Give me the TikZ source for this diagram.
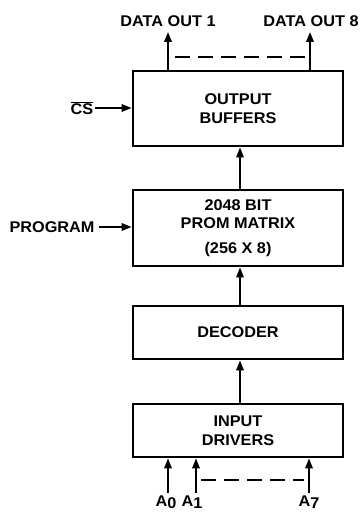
\documentclass[tikz,border=0pt]{standalone}
\usepackage{fontspec}
\setmainfont{Liberation Sans}[FakeStretch=1.05]
\usetikzlibrary{arrows.meta}
\begin{document}
\begin{tikzpicture}[x=1pt,y=-1pt,
  blk/.style={draw,line width=2.8pt,minimum width=210pt,inner sep=0pt,align=center,
     font=\fontsize{15.5}{18.5}\selectfont\bfseries},
  lbl/.style={inner sep=0pt,font=\fontsize{15.5}{18}\selectfont\bfseries},
  arr/.style={line width=1.8pt,-{Triangle[length=10pt,width=7.5pt]}},
  dsh/.style={line width=1.9pt,dash pattern=on 15pt off 8pt}]
\useasboundingbox (0,0) rectangle (362,513);
% blocks
\node[blk,minimum height=75pt] (out) at (238,108.5) {OUTPUT\\BUFFERS};
\node[blk,minimum height=76pt] (prom) at (238,228) {2048 BIT\\PROM MATRIX\\[6pt](256 X 8)};
\node[blk,minimum height=53pt] (dec) at (238,332.5) {DECODER};
\node[blk,minimum height=53pt] (inp) at (238,430.5) {INPUT\\DRIVERS};
% vertical data path
\draw[arr] (prom.north) ++(2,0) coordinate (p1) -- (p1 |- out.south);
\draw[arr] (dec.north) ++(2,0) coordinate (d1) -- (d1 |- prom.south);
\draw[arr] (inp.north) ++(2,0) coordinate (i1) -- (i1 |- dec.south);
% outputs
\coordinate (o1) at (168,32);
\coordinate (o8) at (310,32);
\draw[arr] (o1 |- out.north) -- (o1);
\draw[arr] (o8 |- out.north) -- (o8);
\draw[dsh] (175,57) coordinate (od1) -- (305,57) coordinate (od2);
\node[lbl] (lo1) at (168,21) {DATA OUT 1};
\node[lbl] (lo8) at (311,21) {DATA OUT 8};
% side inputs
\node[lbl] (cs) at (82,108) {$\overline{\mbox{\bfseries CS}}$};
\draw[arr] (95,108) coordinate (cs1) -- (cs1 -| out.west);
\node[lbl] (prg) at (52,227) {PROGRAM};
\draw[arr] (99,227) coordinate (pg1) -- (pg1 -| prom.west);
% address inputs
\coordinate (a0) at (168,493);
\coordinate (a1) at (196,493);
\coordinate (a7) at (309,493);
\draw[arr] (a0) -- (a0 |- inp.south);
\draw[arr] (a1) -- (a1 |- inp.south);
\draw[arr] (a7) -- (a7 |- inp.south);
\draw[dsh] (201,480) coordinate (ad1) -- (304,480) coordinate (ad2);
\node[lbl,anchor=base] (la0) at (166,506) {A\raisebox{-2.5pt}{0}};
\node[lbl,anchor=base] (la1) at (192,506) {A\raisebox{-2.5pt}{1}};
\node[lbl,anchor=base] (la7) at (309,506) {A\raisebox{-2.5pt}{7}};
\end{tikzpicture}
\end{document}
